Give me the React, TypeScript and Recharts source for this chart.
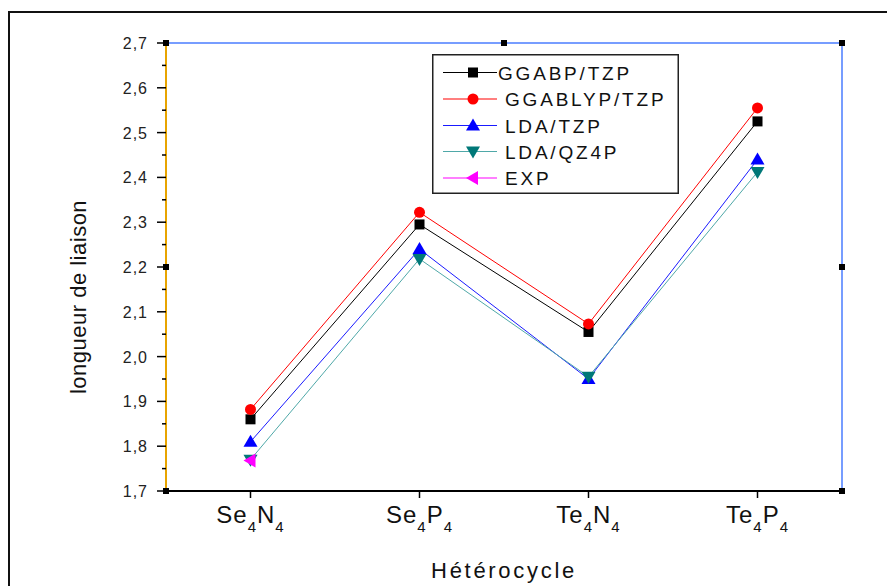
import React from 'react';
import { LineChart, Line, XAxis, YAxis } from 'recharts';

// ---- data ----
const categories = ['Se4N4', 'Se4P4', 'Te4N4', 'Te4P4'];
const categoryParts: [string, string][] = [['Se', 'N'], ['Se', 'P'], ['Te', 'N'], ['Te', 'P']];
const ggabpTzp = [1.86, 2.295, 2.055, 2.525];
const ggablypTzp = [1.882, 2.322, 2.073, 2.555];
const ldaTzp = [1.81, 2.24, 1.95, 2.44];
const ldaQz4p = [1.77, 2.218, 1.955, 2.412];
const expValues = [1.768, null, null, null];
const yTicks = [1.7, 1.75, 1.8, 1.85, 1.9, 1.95, 2.0, 2.05, 2.1, 2.15, 2.2, 2.25, 2.3, 2.35, 2.4, 2.45, 2.5, 2.55, 2.6, 2.65, 2.7];
const seriesNames = ['GGABP/TZP', 'GGABLYP/TZP', 'LDA/TZP', 'LDA/QZ4P', 'EXP'];

const data = categories.map((c, i) => ({
  name: c,
  ggabp: ggabpTzp[i],
  ggablyp: ggablypTzp[i],
  ldatzp: ldaTzp[i],
  ldaqz: ldaQz4p[i],
  exp: expValues[i],
}));

// ---- layout ----
const W = 887;
const H = 586;
const PLOT_LEFT = 166;
const PLOT_TOP = 43;
const PLOT_RIGHT = 842;
const PLOT_BOTTOM = 491;
const FONT = 'Arial, "Liberation Sans", sans-serif';

type Shape = 'square' | 'circle' | 'up' | 'down' | 'left';

function marker(shape: Shape, cx: number, cy: number, fill: string, key?: any) {
  const s = 6;
  if (shape === 'square') return <rect key={key} x={cx - 5} y={cy - 5} width={10} height={10} fill={fill} />;
  if (shape === 'circle') return <circle key={key} cx={cx} cy={cy} r={5.5} fill={fill} />;
  if (shape === 'up')
    return <polygon key={key} points={`${cx},${cy - s - 1} ${cx - s - 1},${cy + s - 1} ${cx + s + 1},${cy + s - 1}`} fill={fill} />;
  if (shape === 'down')
    return <polygon key={key} points={`${cx},${cy + s + 1} ${cx - s - 1},${cy - s + 1} ${cx + s + 1},${cy - s + 1}`} fill={fill} />;
  return <polygon key={key} points={`${cx - s - 1},${cy} ${cx + s - 1},${cy - s - 1} ${cx + s - 1},${cy + s + 1}`} fill={fill} />;
}

const makeDot = (shape: Shape, fill: string) => (props: any) => {
  const { cx, cy, index, value } = props;
  if (cx == null || cy == null || value == null || isNaN(cx) || isNaN(cy)) return <g key={`e-${shape}-${index}`} />;
  return marker(shape, cx, cy, fill, `${shape}-${index}`);
};

const series = [
  { key: 'ggabp', name: seriesNames[0], line: '#000000', fill: '#000000', shape: 'square' as Shape },
  { key: 'ggablyp', name: seriesNames[1], line: '#ff0000', fill: '#ff0000', shape: 'circle' as Shape },
  { key: 'ldatzp', name: seriesNames[2], line: '#1a1aff', fill: '#0000ff', shape: 'up' as Shape },
  { key: 'ldaqz', name: seriesNames[3], line: '#4fa8a8', fill: '#007878', shape: 'down' as Shape },
  { key: 'exp', name: seriesNames[4], line: '#ff00ff', fill: '#ff00ff', shape: 'left' as Shape },
];

const YTick = (props: any) => {
  const { y, payload } = props;
  const v = payload.value as number;
  const major = Math.round(v * 100) % 10 === 0;
  return (
    <g>
      <line x1={major ? PLOT_LEFT - 9 : PLOT_LEFT - 4} x2={PLOT_LEFT} y1={y} y2={y} stroke="#000" strokeWidth={1.5} />
      {major && (
        <text x={PLOT_LEFT - 18} y={y} dy={6} textAnchor="end" fontSize={16} letterSpacing={1} fill="#222" fontFamily={FONT}>
          {v.toFixed(1).replace('.', ',')}
        </text>
      )}
    </g>
  );
};

const XTick = (props: any) => {
  const { x, index } = props;
  const parts = categoryParts[index] || ['', ''];
  return (
    <g>
      <line x1={x} x2={x} y1={PLOT_BOTTOM} y2={PLOT_BOTTOM + 7} stroke="#000" strokeWidth={1.5} />
      <text x={x} y={PLOT_BOTTOM + 32} textAnchor="middle" fontSize={24} letterSpacing={1} fill="#111" fontFamily={FONT}>
        <tspan>{parts[0]}</tspan>
        <tspan fontSize={15} dy={9}>4</tspan>
        <tspan dy={-9}>{parts[1]}</tspan>
        <tspan fontSize={15} dy={9}>4</tspan>
      </text>
    </g>
  );
};

const LegendBox = () => {
  const rows = [18.5, 45, 71.5, 97.5, 124];
  return (
    <svg width={247} height={140} style={{ display: 'block' }}>
      <rect x={0.75} y={0.75} width={245.5} height={138.5} fill="#fff" stroke="#222" strokeWidth={1.5} />
      {series.map((s, i) => (
        <g key={s.key}>
          <line x1={11} x2={65} y1={rows[i]} y2={rows[i]} stroke={s.line} strokeWidth={1.2} />
          {marker(s.shape, 41, rows[i], s.fill)}
          <text x={i === 0 ? 66 : 73} y={rows[i]} dy={7} fontSize={19} letterSpacing={2.8} fill="#111" fontFamily={FONT}>
            {s.name}
          </text>
        </g>
      ))}
    </svg>
  );
};

const handles: [number, number][] = [
  [PLOT_LEFT, PLOT_TOP],
  [(PLOT_LEFT + PLOT_RIGHT) / 2, PLOT_TOP],
  [PLOT_RIGHT, PLOT_TOP],
  [PLOT_RIGHT, (PLOT_TOP + PLOT_BOTTOM) / 2],
  [PLOT_RIGHT, PLOT_BOTTOM],
  [PLOT_LEFT, PLOT_BOTTOM],
  [PLOT_LEFT, (PLOT_TOP + PLOT_BOTTOM) / 2],
];

export default function App() {
  return (
    <div style={{ position: 'absolute', left: 0, top: 0, width: W, height: H, overflow: 'hidden', background: '#fff' }}>
      <div style={{ position: 'absolute', left: 8, top: 11, width: 1000, height: 1000, border: '2px solid #111', boxSizing: 'border-box' }} />
      <div style={{ position: 'absolute', left: 0, top: 0 }}>
        <LineChart width={W} height={H} data={data} margin={{ top: 0, right: 0, bottom: 0, left: 0 }}>
          <XAxis
            dataKey="name"
            xAxisId="bottom"
            scale="band"
            height={H - PLOT_BOTTOM}
            axisLine={{ stroke: '#000', strokeWidth: 2 }}
            tickLine={false}
            tick={<XTick />}
            interval={0}
          />
          <XAxis dataKey="name" xAxisId="top" scale="band" orientation="top" height={PLOT_TOP} axisLine={{ stroke: '#4a7cff', strokeWidth: 1.5 }} tickLine={false} tick={false} />
          <YAxis
            yAxisId="left"
            domain={[1.7, 2.7]}
            ticks={yTicks}
            interval={0}
            width={PLOT_LEFT}
            axisLine={{ stroke: '#e8a400', strokeWidth: 2 }}
            tickLine={false}
            tick={<YTick />}
            allowDataOverflow
          />
          <YAxis yAxisId="right" orientation="right" domain={[1.7, 2.7]} width={W - PLOT_RIGHT} axisLine={{ stroke: '#4a7cff', strokeWidth: 1.5 }} tickLine={false} tick={false} />
          {series.map((s) => (
            <Line
              key={s.key}
              xAxisId="bottom"
              yAxisId="left"
              type="linear"
              dataKey={s.key}
              name={s.name}
              stroke={s.line}
              strokeWidth={1}
              dot={makeDot(s.shape, s.fill)}
              activeDot={false}
              isAnimationActive={false}
              connectNulls={false}
            />
          ))}
        </LineChart>
      </div>
      <div style={{ position: 'absolute', left: 432, top: 54 }}>
        <LegendBox />
      </div>
      <svg width={W} height={H} style={{ position: 'absolute', left: 0, top: 0, pointerEvents: 'none' }}>
        {handles.map(([hx, hy], i) => (
          <rect key={i} x={hx - 3} y={hy - 3} width={6} height={6} fill="#000" />
        ))}
        <text
          transform={`translate(86, 297) rotate(-90)`}
          textAnchor="middle"
          fontSize={22}
          letterSpacing={0.5}
          fill="#111"
          fontFamily={FONT}
        >
          longueur de liaison
        </text>
        <text x={504} y={578} textAnchor="middle" fontSize={22} letterSpacing={2.7} fill="#111" fontFamily={FONT}>
          Hétérocycle
        </text>
      </svg>
    </div>
  );
}
